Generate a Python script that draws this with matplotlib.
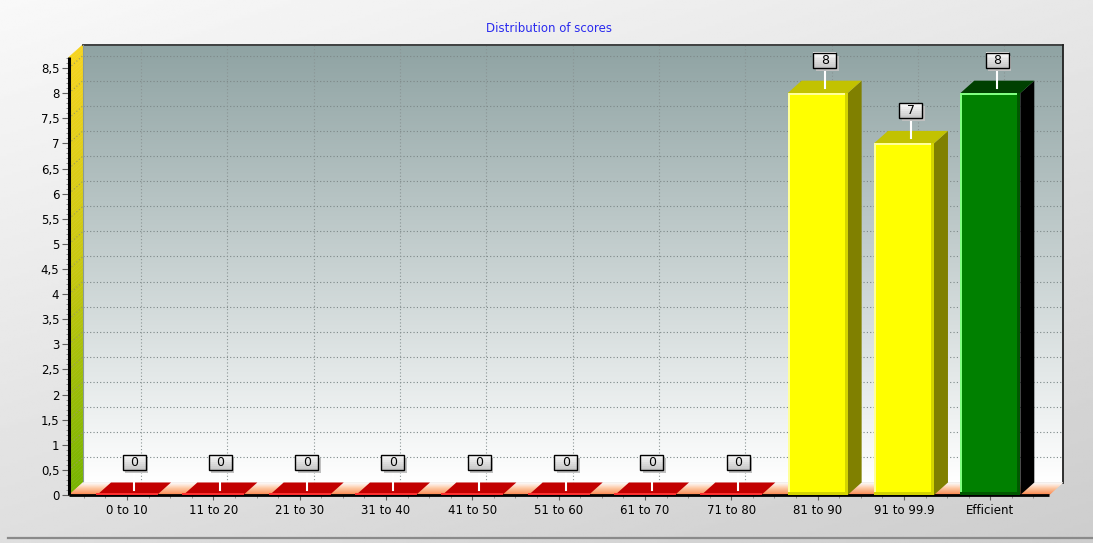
import numpy as np
import matplotlib
matplotlib.use("Agg")
import matplotlib.pyplot as plt
import matplotlib.transforms as mtransforms
from matplotlib.patches import Polygon, Rectangle
from matplotlib.ticker import FixedLocator, FuncFormatter
from matplotlib.colors import to_rgb

# ---------------- data ----------------
categories = ["0 to 10", "11 to 20", "21 to 30", "31 to 40", "41 to 50", "51 to 60",
              "61 to 70", "71 to 80", "81 to 90", "91 to 99.9", "Efficient"]
values = [0, 0, 0, 0, 0, 0, 0, 0, 8, 7, 8]
bar_kind = ["red"] * 8 + ["yellow", "yellow", "green"]
title = "Distribution of scores"
y_ticks = [i * 0.5 for i in range(18)]

plt.rcParams['font.family'] = ['DejaVu Sans']

W, H = 1093, 543
fig = plt.figure(figsize=(W / 100, H / 100), dpi=100)

# ---------------- figure background ----------------
bg = fig.add_axes([0, 0, 1, 1])
bg.set_axis_off()
yy, xx = np.mgrid[0:1:200j, 0:1:400j]
g = 0.975 - 0.17 * (0.6 * yy + 0.4 * xx)
bg.imshow(g, cmap='gray', vmin=0, vmax=1, extent=(0, 1, 0, 1), aspect='auto', zorder=0)
bg.set_xlim(0, 1)
bg.set_ylim(0, 1)
bg.plot([0.007, 1], [1 - 538 / H] * 2, color='#8a8a8a', lw=1.6)

fig.text(549 / W, 1 - 29 / H, title, color='#2a2aee', fontsize=8.5, ha='center', va='center')

# ---------------- main axes ----------------
ax = fig.add_axes([69 / W, (H - 495) / H, 980 / W, 438 / H])
x0, x1 = -0.672, 10.68
y0, y1 = 0.0, 8.72
ax.patch.set_visible(False)
for s in ax.spines.values():
    s.set_visible(False)

ppx = ax.bbox.width / (x1 - x0)
ppy = ax.bbox.height / (y1 - y0)
ddx = 14.0 / ppx
ddy = 12.5 / ppy


def lerp(c1, c2, t):
    a = np.array(to_rgb(c1))
    b = np.array(to_rgb(c2))
    return tuple(a + (b - a) * t)


# back wall gradient
n = 256
t = np.linspace(0, 1, n)[:, None]
top = np.array(to_rgb('#8fa3a3'))
bot = np.array(to_rgb('#ffffff'))
grad = (top + (bot - top) * t)[:, None, :]
ax.imshow(grad, extent=(x0 + ddx, x1 + ddx, ddy, y1 + ddy), aspect='auto',
          clip_on=False, zorder=0, interpolation='bilinear')

# left wall gradient (green bottom -> yellow top)
nb = 120
edges = np.linspace(y0, y1, nb + 1)
for k in range(nb):
    ya, yb = edges[k], edges[k + 1]
    frac = k / (nb - 1)
    if frac < 0.5:
        col = lerp('#78b400', '#c8c810', frac / 0.5)
    else:
        col = lerp('#c8c810', '#f6d420', (frac - 0.5) / 0.5)
    ax.add_patch(Polygon([(x0, ya), (x0 + ddx, ya + ddy), (x0 + ddx, yb + ddy), (x0, yb)],
                         closed=True, fc=col, ec=col, lw=0.3, clip_on=False, zorder=1))

# gridlines
dot = (0, (1, 2))
for yv in y_ticks[1:]:
    ax.plot([x0 + ddx, x1 + ddx], [yv + ddy] * 2, ls=dot, color='#7d8888', lw=0.8,
            clip_on=False, zorder=1.2)
    ax.plot([x0, x0 + ddx], [yv, yv + ddy], ls=dot, color='#9a9a60', lw=0.8,
            clip_on=False, zorder=1.2)
for i in range(len(categories)):
    ax.plot([i + ddx, i + ddx], [ddy, y1 + ddy], ls=dot, color='#8a9494', lw=0.8,
            clip_on=False, zorder=1.2)

# back wall borders
ax.plot([x0 + ddx, x1 + ddx], [y1 + ddy] * 2, color='#3a3a3a', lw=1.3, clip_on=False, zorder=1.5)
ax.plot([x1 + ddx, x1 + ddx], [ddy, y1 + ddy], color='#202020', lw=1.3, clip_on=False, zorder=1.5)
ax.plot([x0 + ddx, x0 + ddx], [ddy, y1 + ddy], color='#8a9a9a', lw=0.8, clip_on=False, zorder=1.5)

# floor gradient (front orange -> back white)
nf = 14
for k in range(nf):
    fa, fb = k / nf, (k + 1) / nf
    fm = (fa + fb) / 2
    if fm < 0.5:
        col = lerp('#ff7a3c', '#ffbf94', fm / 0.5)
    else:
        col = lerp('#ffbf94', '#ffffff', (fm - 0.5) / 0.5)
    ax.add_patch(Polygon([(x0 + fa * ddx, fa * ddy), (x1 + fa * ddx, fa * ddy),
                          (x1 + fb * ddx, fb * ddy), (x0 + fb * ddx, fb * ddy)],
                         closed=True, fc=col, ec=col, lw=0.3, clip_on=False, zorder=2))

# ---------------- bars ----------------
bw = 60.0 / ppx
styles = {
    "yellow": dict(front='#ffff00', hi='#ffff9a', dark='#d4d400', top='#c2c200', side='#808000'),
    "green": dict(front='#008000', hi='#80ff80', dark='#005800', top='#004000', side='#000000'),
}
for i, (v, kind) in enumerate(zip(values, bar_kind)):
    l, r = i - bw / 2, i + bw / 2
    if v == 0:
        ax.add_patch(Polygon([(l, 0), (r, 0), (r + ddx, ddy), (l + ddx, ddy)], closed=True,
                             fc='#c20000', ec='none', clip_on=False, zorder=3))
        ax.plot([l, r], [0.02, 0.02], color='#ff3030', lw=1.4, clip_on=False, zorder=3.1)
        continue
    st = styles[kind]
    ax.add_patch(Polygon([(r, 0), (r + ddx, ddy), (r + ddx, v + ddy), (r, v)], closed=True,
                         fc=st['side'], ec='none', clip_on=False, zorder=3))
    ax.add_patch(Polygon([(l, v), (r, v), (r + ddx, v + ddy), (l + ddx, v + ddy)], closed=True,
                         fc=st['top'], ec='none', clip_on=False, zorder=3))
    ax.add_patch(Rectangle((l, 0), bw, v, fc=st['front'], ec='none', clip_on=False, zorder=3.2))
    hx = 2.0 / ppx
    ax.add_patch(Rectangle((l, 0), hx, v, fc=st['hi'], ec='none', clip_on=False, zorder=3.3))
    ax.add_patch(Rectangle((l, v - 2.0 / ppy), bw, 2.0 / ppy, fc=st['hi'], ec='none',
                           clip_on=False, zorder=3.3))
    ax.add_patch(Rectangle((r - 3.0 / ppx, 0), 3.0 / ppx, v, fc=st['dark'], ec='none',
                           clip_on=False, zorder=3.3))
    ax.add_patch(Rectangle((l, 0), bw, 3.0 / ppy, fc=st['dark'], ec='none',
                           clip_on=False, zorder=3.3))

# axis lines
ax.plot([x0, x0], [y0, y1], color='black', lw=2.2, clip_on=False, zorder=4, solid_capstyle='butt')
ax.plot([x0, x1], [0, 0], color='black', lw=2.0, clip_on=False, zorder=2.5, solid_capstyle='butt')

# ---------------- value labels ----------------
for i, v in enumerate(values):
    xc = i + ddx / 2
    tr = mtransforms.Affine2D() + mtransforms.ScaledTranslation(xc, v, ax.transData)
    # stem
    ax.plot([0, 0], [5, 25], color='white', lw=1.5, transform=tr, clip_on=False, zorder=5)
    # shadow
    ax.add_patch(Rectangle((-9, 22), 23, 15.5, fc='#c0c0c0', ec='none', transform=tr,
                           clip_on=False, zorder=5.1))
    # box with gradient
    nbx = 8
    for k in range(nbx):
        col = lerp('#c8c8c8', '#fafafa', k / (nbx - 1))
        ax.add_patch(Rectangle((-11.5, 25 + 15.5 * k / nbx), 23, 15.5 / nbx + 0.3, fc=col,
                               ec='none', transform=tr, clip_on=False, zorder=5.2))
    ax.add_patch(Rectangle((-11.5, 25), 23, 15.5, fc='none', ec='black', lw=1.0,
                           transform=tr, clip_on=False, zorder=5.3))
    ax.text(0, 32.5, str(v), transform=tr, ha='center', va='center', fontsize=9,
            color='black', zorder=5.4, clip_on=False)

# ---------------- ticks ----------------
ax.set_xlim(x0, x1)
ax.set_ylim(y0, y1)
ax.yaxis.set_major_locator(FixedLocator(y_ticks))
ax.yaxis.set_major_formatter(FuncFormatter(lambda val, pos: f"{val:g}".replace('.', ',')))
ax.yaxis.set_minor_locator(FixedLocator([k * 0.1 for k in range(88)]))
ax.tick_params(axis='y', which='major', length=5, width=0.8, color='#606060',
               labelsize=8.5, pad=2, direction='out')
ax.tick_params(axis='y', which='minor', length=2.5, width=0.6, color='#808080', direction='out')
ax.xaxis.set_major_locator(FixedLocator(list(range(len(categories)))))
ax.set_xticklabels(categories)
ax.xaxis.set_minor_locator(FixedLocator([k * 0.25 for k in range(-2, 43)]))
ax.tick_params(axis='x', which='major', length=3.5, width=0.8, color='#606060',
               labelsize=8.5, pad=3, direction='out')
ax.tick_params(axis='x', which='minor', length=2.5, width=0.6, color='#808080', direction='out')

fig.savefig("out.png", dpi=100)
